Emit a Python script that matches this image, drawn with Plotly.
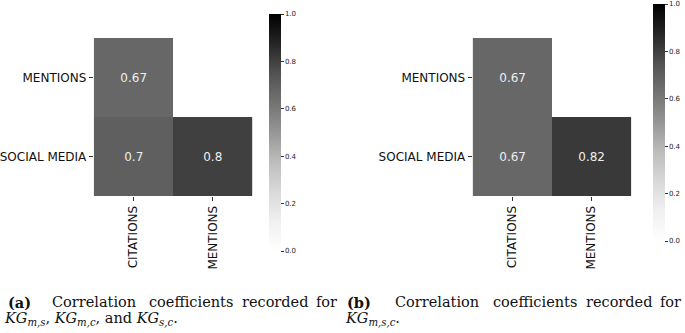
import plotly.graph_objects as go

W, H = 685, 333

x_cats = ["CITATIONS", "MENTIONS"]
y_cats = ["MENTIONS", "SOCIAL MEDIA"]
z_a = [[0.67, None], [0.7, 0.8]]
z_b = [[0.67, None], [0.67, 0.82]]
cb_ticks = [0.0, 0.2, 0.4, 0.6, 0.8, 1.0]

cap_a_words = ["<b>(a)</b>", "Correlation", "coefficients", "recorded", "for"]
cap_a_line2 = "<i>KG</i><sub><i>m,s</i></sub>, <i>KG</i><sub><i>m,c</i></sub>, and <i>KG</i><sub><i>s,c</i></sub>."
cap_b_words = ["<b>(b)</b>", "Correlation", "coefficients", "recorded", "for"]
cap_b_line2 = "<i>KG</i><sub><i>m,s,c</i></sub>."

greys = [
    [0.0, "#ffffff"], [0.125, "#f0f0f0"], [0.25, "#d9d9d9"], [0.375, "#bdbdbd"],
    [0.5, "#969696"], [0.625, "#737373"], [0.75, "#525252"], [0.875, "#252525"],
    [1.0, "#000000"],
]

def px_x(p):
    return p / W

def px_y(p):
    return 1 - p / H

def cbar(x_left, y_top, y_bot):
    return dict(
        x=px_x(x_left), xanchor="left", xpad=0, ypad=0,
        y=px_y((y_top + y_bot) / 2), yanchor="middle",
        lenmode="pixels", len=y_bot - y_top,
        thickness=12, thicknessmode="pixels",
        outlinewidth=0,
        tickvals=cb_ticks, tickformat=".1f",
        ticks="outside", ticklen=3, tickwidth=0.8, tickcolor="#333",
        ticklabeloverflow="allow",
        tickfont=dict(family="DejaVu Sans", size=7, color="#222"),
    )

fig = go.Figure()
fig.add_trace(go.Heatmap(
    z=z_a, x=x_cats, y=y_cats, zmin=0, zmax=1, colorscale=greys,
    texttemplate="%{z}", textfont=dict(family="DejaVu Sans", size=12, color="#eeeeee"),
    hoverinfo="skip", colorbar=cbar(268, 14, 251), xaxis="x", yaxis="y",
))
fig.add_trace(go.Heatmap(
    z=z_b, x=x_cats, y=y_cats, zmin=0, zmax=1, colorscale=greys,
    texttemplate="%{z}", textfont=dict(family="DejaVu Sans", size=12, color="#eeeeee"),
    hoverinfo="skip", colorbar=cbar(653, 4, 241), xaxis="x2", yaxis="y2",
))

ax_common = dict(
    ticks="outside", ticklen=4, tickwidth=0.8, tickcolor="#333",
    showgrid=False, zeroline=False, showline=False,
    tickfont=dict(family="DejaVu Sans", size=12, color="#111"),
)
y_dom = [px_y(196), px_y(38)]
fig.update_layout(
    width=W, height=H, margin=dict(l=0, r=0, t=0, b=0),
    paper_bgcolor="white", plot_bgcolor="white",
    xaxis=dict(domain=[px_x(92), px_x(251)], anchor="y", tickangle=-90, **ax_common),
    yaxis=dict(domain=y_dom, anchor="x", autorange="reversed", **ax_common),
    xaxis2=dict(domain=[px_x(472), px_x(631)], anchor="y2", tickangle=-90, **ax_common),
    yaxis2=dict(domain=y_dom, anchor="x2", autorange="reversed", **ax_common),
)

cap_font = dict(family="DejaVu Serif", size=14.5, color="#111")
a_x = [5, 49, 146, 240, 314]
b_x = [345, 393, 491, 585, 659]
anns = []
for words, xs in ((cap_a_words, a_x), (cap_b_words, b_x)):
    for w, xp in zip(words, xs):
        anns.append(dict(text=w, x=px_x(xp), y=px_y(302), xref="paper", yref="paper",
                         xanchor="left", yanchor="middle", showarrow=False, font=cap_font,
                         borderpad=0))
for txt, xp in ((cap_a_line2, 1), (cap_b_line2, 343)):
    anns.append(dict(text=txt, x=px_x(xp), y=px_y(319), xref="paper", yref="paper",
                     xanchor="left", yanchor="middle", showarrow=False, font=cap_font,
                     borderpad=0))
fig.update_layout(annotations=anns)

fig.write_html("out.html", config={"displayModeBar": False},
               post_script="document.body.style.margin='0';document.body.style.overflow='hidden';")
